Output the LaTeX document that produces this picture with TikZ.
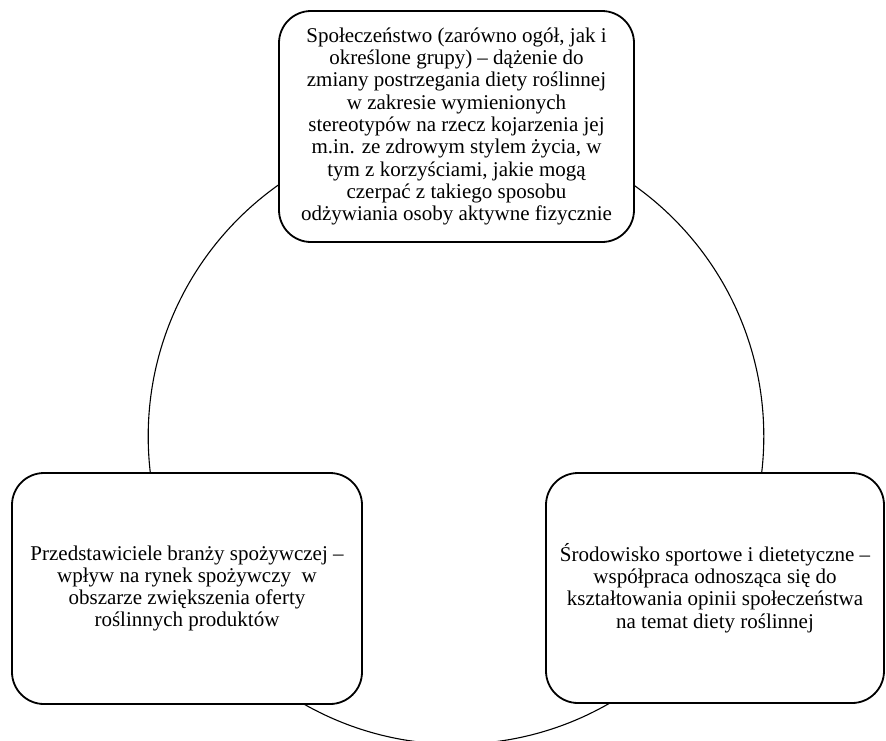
\documentclass[tikz,border=0pt]{standalone}
\usepackage{fontspec}
\setmainfont{Liberation Serif}
\begin{document}
\begin{tikzpicture}[x=1pt,y=-1pt,
  card/.style={draw, line width=1.8pt, rounded corners=32pt, fill=white,
    align=center, inner sep=0pt,
    font=\fontsize{21}{22.3}\selectfont},
  ring/.style={line width=1.1pt}]
\useasboundingbox (0,0) rectangle (886,740);

% the cycle linking the three groups, drawn behind the boxes
\coordinate (hub) at (456,436.4);
\draw[ring] (hub) circle[radius=307.8pt];

\node[card, minimum width=355pt, minimum height=231pt] (soc) at (456.5,126.5)
  {Społeczeństwo (zarówno ogół, jak i\\
   określone grupy) – dążenie do\\
   zmiany postrzegania diety roślinnej\\
   w zakresie wymienionych\\
   stereotypów na rzecz kojarzenia jej\\
   m.in. ze zdrowym stylem życia, w\\
   tym z korzyściami, jakie mogą\\
   czerpać z takiego sposobu\\
   odżywiania osoby aktywne fizycznie};

\node[card, minimum width=350pt, minimum height=231pt] (food) at (187,588.5)
  {Przedstawiciele branży spożywczej –\\
   wpływ na rynek spożywczy \ w\\
   obszarze zwiększenia oferty\\
   roślinnych produktów};

\node[card, minimum width=338pt, minimum height=230pt] (sport) at (715,588)
  {Środowisko sportowe i dietetyczne –\\
   współpraca odnosząca się do\\
   kształtowania opinii społeczeństwa\\
   na temat diety roślinnej};
\end{tikzpicture}
\end{document}
